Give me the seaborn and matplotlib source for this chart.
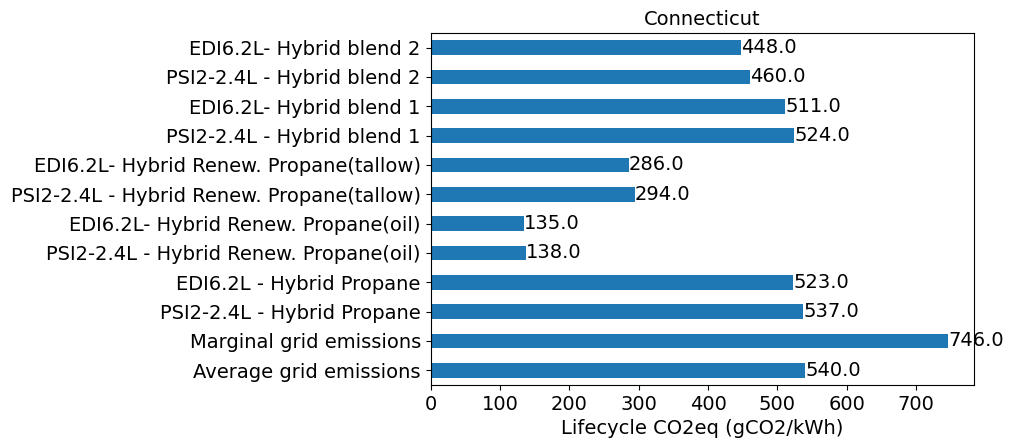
import numpy as np
import pandas as pd
import matplotlib
matplotlib.use("Agg")
import matplotlib.pyplot as plt
import seaborn as sns

# categories listed top to bottom as in the chart
labels = [
    "EDI6.2L- Hybrid blend 2",
    "PSI2-2.4L - Hybrid blend 2",
    "EDI6.2L- Hybrid blend 1",
    "PSI2-2.4L - Hybrid blend 1",
    "EDI6.2L- Hybrid Renew. Propane(tallow)",
    "PSI2-2.4L - Hybrid Renew. Propane(tallow)",
    "EDI6.2L- Hybrid Renew. Propane(oil)",
    "PSI2-2.4L - Hybrid Renew. Propane(oil)",
    "EDI6.2L - Hybrid Propane",
    "PSI2-2.4L - Hybrid Propane",
    "Marginal grid emissions",
    "Average grid emissions",
]
values = [448.0, 460.0, 511.0, 524.0, 286.0, 294.0, 135.0, 138.0, 523.0, 537.0, 746.0, 540.0]

df = pd.DataFrame({"scenario": labels, "co2": values})

plt.rcParams["font.family"] = ["DejaVu Sans"]
plt.rcParams["font.size"] = 14

DPI = 100
fig = plt.figure(figsize=(1013 / DPI, 444 / DPI), dpi=DPI)
ax = fig.add_axes([0.425, 0.1329, 0.5365, 0.7928])

sns.barplot(data=df, x="co2", y="scenario", order=labels, orient="h",
            color="#1f77b4", saturation=1, width=0.5, ax=ax, errorbar=None)

ax.bar_label(ax.containers[0], labels=[f"{v:.1f}" for v in values], fontsize=14)
ax.set_xlim(0, max(values) * 1.05)
ax.set_title("Connecticut", fontsize=14)
ax.set_xlabel("Lifecycle CO2eq (gCO2/kWh)", fontsize=14)
ax.set_ylabel("")
ax.tick_params(labelsize=14)

fig.savefig("out.png", dpi=DPI)
